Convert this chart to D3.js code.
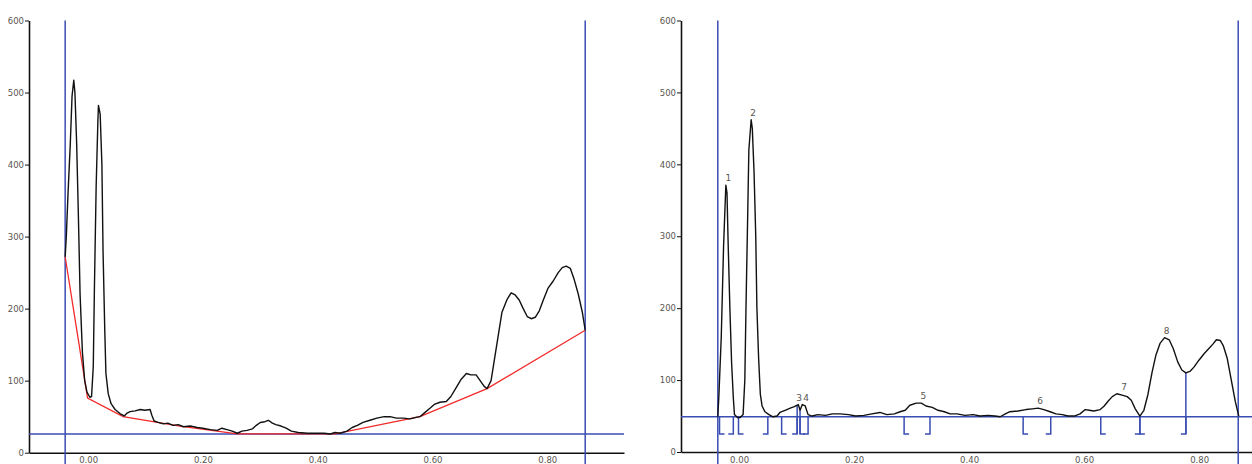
<!DOCTYPE html>
<html>
<head>
<meta charset="utf-8">
<script src="https://cdn.jsdelivr.net/npm/d3@7"></script>
<style>
  html, body { margin: 0; padding: 0; background: #fff; }
  svg { display: block; }
  text { font-family: "DejaVu Sans", sans-serif; }
</style>
</head>
<body>
<svg id="chart" width="1252" height="464"></svg>
<script>
// ---------- data ----------
const yTicks = [0, 100, 200, 300, 400, 500, 600];
const xTicks = [0.00, 0.20, 0.40, 0.60, 0.80];

// Left panel: raw trace (Rf, intensity)
const leftX = [-0.040,-0.038,-0.035,-0.031,-0.028,-0.025,-0.023,-0.020,-0.017,-0.014,-0.010,-0.006,-0.002,0.003,0.006,0.009,0.011,0.014,0.017,0.018,0.021,0.024,0.026,0.029,0.031,0.035,0.040,0.047,0.056,0.063,0.068,0.073,0.082,0.091,0.099,0.108,0.111,0.115,0.122,0.131,0.139,0.148,0.157,0.166,0.178,0.190,0.200,0.213,0.225,0.233,0.242,0.251,0.260,0.268,0.277,0.286,0.293,0.300,0.308,0.314,0.321,0.327,0.336,0.345,0.354,0.366,0.382,0.397,0.411,0.422,0.430,0.439,0.451,0.460,0.469,0.479,0.491,0.503,0.516,0.526,0.537,0.549,0.561,0.571,0.578,0.587,0.596,0.603,0.613,0.624,0.632,0.641,0.650,0.659,0.667,0.676,0.683,0.690,0.695,0.702,0.707,0.714,0.721,0.730,0.737,0.744,0.751,0.758,0.765,0.772,0.779,0.786,0.793,0.801,0.810,0.819,0.826,0.833,0.840,0.847,0.854,0.861,0.866];
const leftY = [272,300,360,430,495,517,500,430,330,220,140,100,84,77,78,120,230,370,460,482,470,400,280,170,110,82,68,60,54,51,55,57,58,60,59,60,52,44,42,40,41,38,39,36,37,35,34,32,31,34,32,30,27,30,31,33,38,42,43,45,41,39,37,34,30,28,27,27,27,26,28,27,30,35,38,42,45,48,50,50,48,48,47,49,50,56,62,67,70,71,78,90,102,110,108,108,100,92,89,100,125,160,195,213,222,219,212,200,189,186,188,197,212,228,238,250,257,259,256,240,220,195,170];

// Left panel: fitted background (red)
const bgX = [-0.040,-0.001,0.061,0.160,0.260,0.430,0.578,0.695,0.866];
const bgY = [272,76,50,37,26,26,50,89,170];

// Left panel markers
const leftStart = -0.040, leftEnd = 0.866, leftLevel = 26;

// Right panel: corrected trace
const rightX = [-0.037,-0.035,-0.031,-0.027,-0.024,-0.023,-0.021,-0.019,-0.016,-0.013,-0.010,-0.008,-0.003,0.002,0.007,0.010,0.012,0.015,0.017,0.021,0.023,0.026,0.029,0.031,0.034,0.037,0.040,0.045,0.052,0.059,0.066,0.071,0.080,0.089,0.096,0.103,0.106,0.110,0.115,0.120,0.127,0.137,0.150,0.162,0.176,0.190,0.203,0.217,0.231,0.245,0.257,0.270,0.280,0.289,0.297,0.308,0.317,0.325,0.336,0.346,0.357,0.367,0.379,0.393,0.407,0.419,0.433,0.445,0.454,0.463,0.471,0.485,0.499,0.510,0.520,0.530,0.541,0.551,0.562,0.572,0.583,0.593,0.602,0.609,0.617,0.628,0.635,0.642,0.649,0.657,0.666,0.675,0.682,0.689,0.697,0.704,0.711,0.718,0.725,0.732,0.740,0.748,0.755,0.763,0.770,0.777,0.784,0.791,0.800,0.809,0.817,0.824,0.830,0.837,0.842,0.849,0.856,0.863,0.869];
const rightY = [49,80,160,285,350,371,360,290,200,124,75,52,48,48,52,100,200,330,420,462,450,390,300,200,130,80,64,56,52,49,50,55,58,61,63,66,58,66,64,52,50,52,51,53,53,52,50,51,53,55,52,53,56,58,65,68,68,64,62,58,56,53,53,51,52,50,51,50,49,53,56,57,59,60,61,59,56,53,52,50,50,53,59,58,57,59,64,71,77,81,79,77,72,60,50,58,80,110,135,151,159,156,144,125,114,110,112,118,128,137,144,150,156,155,148,130,100,70,50];

const rightStart = -0.037, rightEnd = 0.868, rightLevel = 49;

// Peak table
const peakIds    = ["1","2","3","4","5","6","7","8"];
const peakApexX  = [-0.022,0.021,0.101,0.113,0.317,0.520,0.666,0.740];
const peakApexY  = [371,462,66,66,68,61,81,159];
const peakStart  = [-0.034,-0.001,0.074,0.106,0.287,0.494,0.629,0.697];
const peakEnd    = [-0.010,0.050,0.101,0.120,0.332,0.542,0.697,0.777];
const dropLines  = [0.101,0.106,0.777];
const bracketLow = 25;

// ---------- drawing ----------
const svg = d3.select("#chart");
const BLUE = "#3a4db3", RED = "#f22a2a", INK = "#111", LABEL = "#5a5550";

function panel(cfg) {
  const x = d3.scaleLinear().domain(cfg.xDomain).range(cfg.xRange);
  const y = d3.scaleLinear().domain([0, 600]).range(cfg.yRange);
  const g = svg.append("g");

  // y axis
  const ya = d3.axisLeft(y).tickValues(yTicks).tickFormat(d3.format("d")).tickSize(4).tickSizeOuter(0);
  const yg = g.append("g").attr("transform", `translate(${cfg.xRange[0]},0)`).call(ya);
  yg.select(".domain").attr("stroke", INK).attr("stroke-width", 1.6);
  yg.selectAll(".tick line").attr("stroke", INK).attr("stroke-width", 1);
  yg.selectAll(".tick text").attr("font-size", 8.5).attr("fill", LABEL).attr("x", -5).attr("font-family", "DejaVu Sans");

  // x axis (no tick marks)
  const xa = d3.axisBottom(x).tickValues(xTicks).tickFormat(d3.format(".2f")).tickSize(0).tickSizeOuter(0);
  const xg = g.append("g").attr("transform", `translate(0,${cfg.yRange[0]})`).call(xa);
  xg.select(".domain").attr("stroke", INK).attr("stroke-width", 1.6);
  xg.selectAll(".tick text").attr("font-size", 8.5).attr("fill", LABEL).attr("dy", 0).attr("y", 10.5).attr("font-family", "DejaVu Sans");

  // markers
  g.append("line").attr("x1", cfg.xRange[0]).attr("x2", cfg.xRange[1])
    .attr("y1", y(cfg.level)).attr("y2", y(cfg.level)).attr("stroke", BLUE).attr("stroke-width", 1.5);
  [cfg.start, cfg.end].forEach(v => {
    g.append("line").attr("x1", x(v)).attr("x2", x(v)).attr("y1", y(600)).attr("y2", 464)
      .attr("stroke", BLUE).attr("stroke-width", 1.5);
  });
  return {x, y, g};
}

const L = panel({xDomain: [-0.103, 0.9336], xRange: [29, 624], yRange: [452.7, 20.5],
                 level: leftLevel, start: leftStart, end: leftEnd});
const R = panel({xDomain: [-0.101, 0.892], xRange: [681, 1252], yRange: [452, 20.5],
                 level: rightLevel, start: rightStart, end: rightEnd});

// left traces
const lineL = d3.line().x(d => L.x(d[0])).y(d => L.y(d[1]));
L.g.append("path").datum(d3.zip(bgX, bgY)).attr("d", lineL)
  .attr("fill", "none").attr("stroke", RED).attr("stroke-width", 1.3);
L.g.append("path").datum(d3.zip(leftX, leftY)).attr("d", lineL)
  .attr("fill", "none").attr("stroke", INK).attr("stroke-width", 1.4).attr("stroke-linejoin", "round");

// right: brackets
const foot = 5;
peakIds.forEach((id, i) => {
  const xs = R.x(peakStart[i]), xe = R.x(peakEnd[i]);
  const yt = R.y(rightLevel), yb = R.y(bracketLow);
  R.g.append("path").attr("d", `M${xs},${yt}V${yb}H${xs + foot}`)
    .attr("fill", "none").attr("stroke", BLUE).attr("stroke-width", 1.5);
  R.g.append("path").attr("d", `M${xe},${yt}V${yb}H${xe - foot}`)
    .attr("fill", "none").attr("stroke", BLUE).attr("stroke-width", 1.5);
});
// drop lines from baseline up to the trace
const traceAt = v => {
  const i = d3.bisector(d => d).left(rightX, v);
  const x0 = rightX[i-1], x1 = rightX[i];
  const t = (v - x0) / (x1 - x0);
  return rightY[i-1] + t * (rightY[i] - rightY[i-1]);
};
dropLines.forEach(v => {
  R.g.append("line").attr("x1", R.x(v)).attr("x2", R.x(v))
    .attr("y1", R.y(traceAt(v))).attr("y2", R.y(bracketLow))
    .attr("stroke", BLUE).attr("stroke-width", 1.5);
});

// right trace
const lineR = d3.line().x(d => R.x(d[0])).y(d => R.y(d[1]));
R.g.append("path").datum(d3.zip(rightX, rightY)).attr("d", lineR)
  .attr("fill", "none").attr("stroke", INK).attr("stroke-width", 1.4).attr("stroke-linejoin", "round");

// peak labels
R.g.selectAll("text.peak").data(peakIds).join("text").attr("class", "peak")
  .attr("x", (d, i) => R.x(peakApexX[i]) + 2)
  .attr("y", (d, i) => R.y(peakApexY[i]) - 4)
  .attr("text-anchor", "middle").attr("font-size", 9).attr("fill", LABEL)
  .text(d => d);
</script>
</body>
</html>
